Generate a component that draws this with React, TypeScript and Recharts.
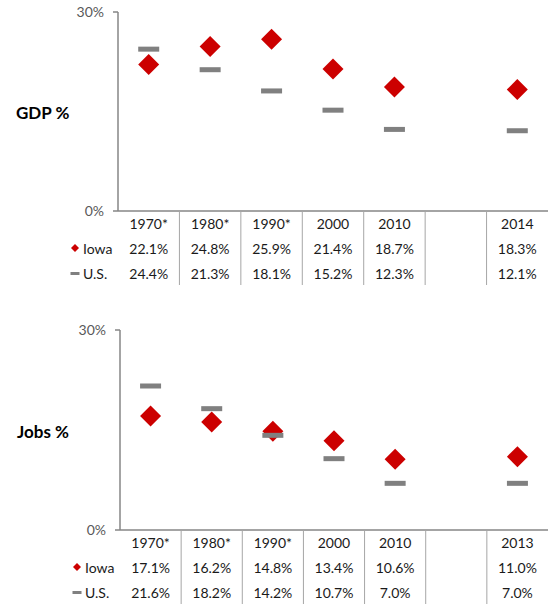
import React from 'react';
import { ComposedChart, Scatter, XAxis, YAxis } from 'recharts';

const gdpYears = ['1970*', '1980*', '1990*', '2000', '2010', ' ', '2014'];
const gdpIowa = [22.1, 24.8, 25.9, 21.4, 18.7, null, 18.3];
const gdpUS = [24.4, 21.3, 18.1, 15.2, 12.3, null, 12.1];

const jobsYears = ['1970*', '1980*', '1990*', '2000', '2010', ' ', '2013'];
const jobsIowa = [17.1, 16.2, 14.8, 13.4, 10.6, null, 11.0];
const jobsUS = [21.6, 18.2, 14.2, 10.7, 7.0, null, 7.0];

const yTicks = [0, 30];
const seriesNames = ['Iowa', 'U.S.'];

const RED = '#CC0000';
const GRAY = '#808080';
const AXIS = '#868686';
const FONT = 'Lato, "Open Sans", sans-serif';

const W = 555;
const N = 7;

const makeDiamond = (key: string) => (props: any) => {
  const { cx, cy, payload } = props;
  if (!payload || payload[key] == null || !isFinite(cx) || !isFinite(cy)) return <g />;
  const r = 10.5;
  return (
    <polygon
      points={`${cx},${cy - r} ${cx + r},${cy} ${cx},${cy + r} ${cx - r},${cy}`}
      fill={RED}
    />
  );
};

const makeDash = (key: string) => (props: any) => {
  const { cx, cy, payload } = props;
  if (!payload || payload[key] == null || !isFinite(cx) || !isFinite(cy)) return <g />;
  return <rect x={cx - 10.5} y={cy - 2.5} width={21} height={5} fill={GRAY} />;
};

const fmt = (v: number | null) => (v == null ? '' : v.toFixed(1) + '%');

function TableTick(props: any) {
  const { x, y, payload, iowa, us, band } = props;
  const i = payload.index;
  const left = x - band / 2;
  const textStyle = { fontFamily: FONT, fontSize: 14, fill: '#1a1a1a' };
  return (
    <g>
      {i > 0 && (
        <line x1={left} x2={left} y1={y} y2={y + 74} stroke="#a6a6a6" strokeWidth={1} />
      )}
      {i === 0 && (
        <g>
          <polygon
            points={`${left - 43},${y + 33} ${left - 39},${y + 37} ${left - 43},${y + 41} ${left - 47},${y + 37}`}
            fill={RED}
          />
          <text x={left - 35} y={y + 37} dominantBaseline="central" style={textStyle}>
            {seriesNames[0]}
          </text>
          <rect x={left - 47.5} y={y + 61} width={9} height={3} fill={GRAY} />
          <text x={left - 35} y={y + 62.5} dominantBaseline="central" style={textStyle}>
            {seriesNames[1]}
          </text>
        </g>
      )}
      <text x={x} y={y + 12.5} textAnchor="middle" dominantBaseline="central" style={textStyle}>
        {payload.value}
      </text>
      <text x={x} y={y + 37} textAnchor="middle" dominantBaseline="central" style={textStyle}>
        {fmt(iowa[i])}
      </text>
      <text x={x} y={y + 62.5} textAnchor="middle" dominantBaseline="central" style={textStyle}>
        {fmt(us[i])}
      </text>
    </g>
  );
}

function Panel(props: {
  years: string[];
  iowa: (number | null)[];
  us: (number | null)[];
  height: number;
  top: number;
  left: number;
  xHeight: number;
}) {
  const { years, iowa, us, height, top, left, xHeight } = props;
  const data = years.map((year, i) => ({ year, iowa: iowa[i], us: us[i] }));
  const right = 7;
  const yWidth = 118;
  const band = (W - right - left - yWidth) / N;
  return (
    <ComposedChart
      width={W}
      height={height}
      data={data}
      margin={{ top, right, bottom: 0, left }}
    >
      <XAxis
        dataKey="year"
        interval={0}
        tickLine={false}
        tickSize={0}
        tickMargin={0}
        height={xHeight}
        padding={{ left: band / 2, right: band / 2 }}
        axisLine={{ stroke: AXIS, strokeWidth: 1.5 }}
        tick={<TableTick iowa={iowa} us={us} band={band} />}
      />
      <YAxis
        width={yWidth}
        domain={[0, 30]}
        ticks={yTicks}
        allowDataOverflow
        tickFormatter={(v: number) => v + '%'}
        tickSize={5}
        tickMargin={9}
        axisLine={{ stroke: AXIS, strokeWidth: 1.5 }}
        tickLine={{ stroke: AXIS, strokeWidth: 1.5 }}
        tick={{ fill: '#595959', fontSize: 14, fontFamily: FONT }}
      />
      <Scatter dataKey="iowa" isAnimationActive={false} shape={makeDiamond('iowa')} />
      <Scatter dataKey="us" isAnimationActive={false} shape={makeDash('us')} />
    </ComposedChart>
  );
}

const labelStyle: React.CSSProperties = {
  position: 'absolute',
  fontFamily: FONT,
  fontWeight: 700,
  fontSize: 17,
  color: '#000',
  lineHeight: '20px',
  whiteSpace: 'nowrap',
};

export default function App() {
  return (
    <div style={{ position: 'absolute', left: 0, top: 0, width: W, height: 604, background: '#fff' }}>
      <div style={{ position: 'absolute', left: 0, top: 0 }}>
        <Panel years={gdpYears} iowa={gdpIowa} us={gdpUS} height={300} top={12} left={0} xHeight={89} />
      </div>
      <div style={{ position: 'absolute', left: 0, top: 300 }}>
        <Panel years={jobsYears} iowa={jobsIowa} us={jobsUS} height={304} top={30} left={2} xHeight={74} />
      </div>
      <div style={{ ...labelStyle, left: 16, top: 103 }}>GDP %</div>
      <div style={{ ...labelStyle, left: 17, top: 422 }}>Jobs %</div>
    </div>
  );
}
